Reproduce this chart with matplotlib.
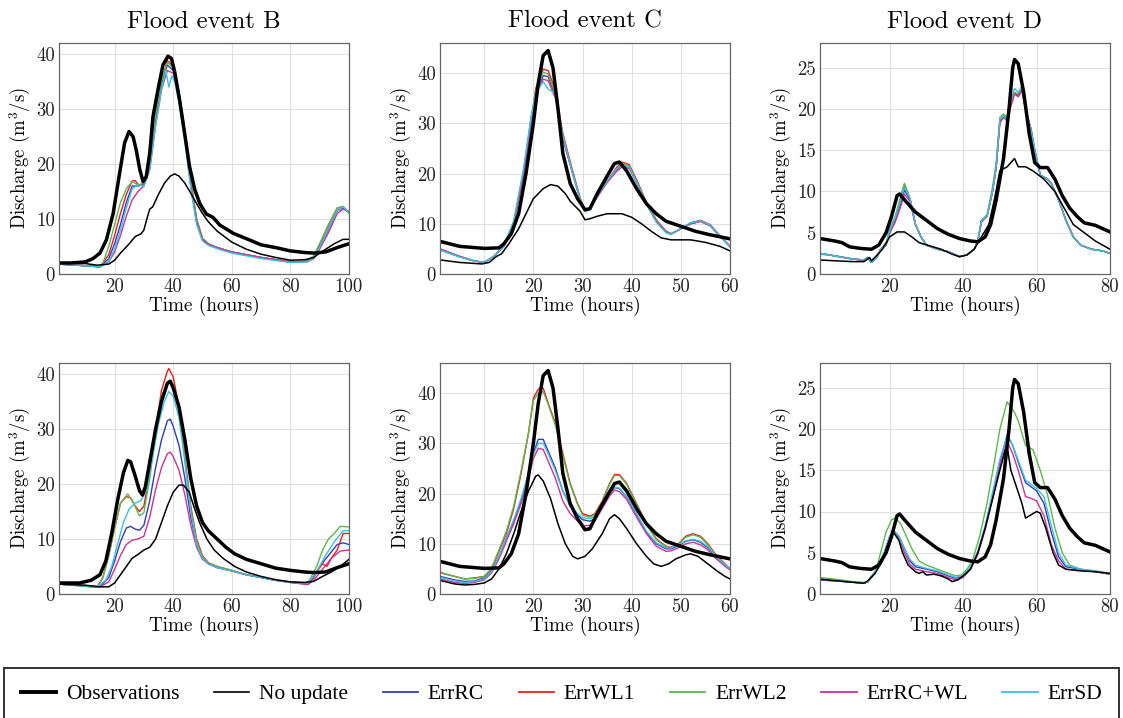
import matplotlib
matplotlib.use('Agg')
import matplotlib.pyplot as plt
from matplotlib.lines import Line2D

plt.rcParams['font.family'] = ['cmr10', 'DejaVu Serif']
plt.rcParams['mathtext.fontset'] = 'cm'
plt.rcParams['axes.unicode_minus'] = False

# ---------------- Flood event B, top row ----------------
B1_obs = ([1, 5, 10, 12.6, 15, 17.2, 19.5, 21.7, 23.4, 24.9, 26.3, 27.4, 28.6, 29.7, 30.8, 32, 33.1, 34.8, 36.5, 38.2,
           39.4, 40.5, 42.2, 43.9, 45.6, 47.4, 49.1, 51.3, 53.6, 55.9, 60.5, 66, 70, 75, 80, 85, 88, 92, 96, 100],
          [2, 2, 2.2, 2.8, 3.8, 6.2, 11, 18.3, 23.8, 25.9, 25, 22.5, 19, 16.8, 17.7, 22, 28.6, 33.5, 38, 39.6,
           39.2, 36.8, 31.6, 25.6, 19.5, 15.3, 12.8, 10.9, 10.3, 8.9, 7.4, 6.2, 5.3, 4.8, 4.2, 3.9, 3.8, 4.0, 4.8, 5.5])
B1_noup = ([1, 10, 14, 18, 20, 22, 25, 27, 29, 30, 31, 32, 33, 35, 37, 39, 40.5, 42, 44, 46, 48, 50, 52, 55, 60, 65,
            70, 75, 80, 85, 88, 90, 95, 98, 100],
           [2, 1.9, 1.6, 1.8, 2.5, 3.8, 5.5, 6.8, 7.3, 8, 10, 11.8, 12.2, 14.5, 16.5, 17.8, 18.2, 17.8, 16.5, 14.7,
            12.8, 11, 9.5, 7.8, 5.8, 4.5, 3.6, 3, 2.5, 2.6, 3, 3.8, 5.5, 6.3, 6.3])
B1_rc = ([1, 10, 15, 18, 20, 22, 24, 26, 28, 30, 32, 34, 36, 38, 40, 42, 44, 46, 48, 50, 52, 55, 60, 70, 80, 86, 88,
          90, 93, 96, 98, 100],
         [1.8, 1.5, 1.3, 2.8, 5.5, 9, 13, 16, 16, 16.3, 20.5, 28, 34.5, 38, 37, 32.5, 25.5, 16.5, 9.5, 6.3, 5.4, 4.8,
          4, 3, 2.2, 2.3, 3, 4.8, 8, 11.5, 12, 11.2])
B1_wl1 = ([1, 10, 15, 18, 20, 22, 24, 26, 27, 28, 30, 32, 34, 36, 38, 40, 42, 44, 46, 48, 50, 52, 55, 60, 70, 80, 86,
           88, 90, 93, 96, 98, 100],
          [1.8, 1.5, 1.3, 3.5, 7, 11, 14.5, 16.9, 17, 16.3, 16, 21, 29, 35, 38.8, 37.8, 33, 26, 17, 10, 6.5, 5.5, 4.8,
           4, 3, 2.2, 2.3, 3.2, 5.3, 8.8, 12, 12.2, 11.3])
B1_wl2 = ([1, 10, 15, 16, 18, 20, 22, 24, 26, 28, 30, 32, 34, 36, 38, 40, 42, 44, 46, 48, 50, 52, 55, 60, 70, 80, 85,
           88, 90, 93, 96, 98, 100],
          [1.8, 1.5, 1.3, 2, 5, 9, 13, 15.5, 16.8, 16.2, 16.5, 21, 29, 35, 38.5, 37.5, 33, 26, 17, 10, 6.5, 5.5, 4.8,
           4, 3, 2.2, 2.2, 3.3, 5.5, 9, 12, 12.3, 11])
B1_rcwl = ([1, 10, 15, 18, 20, 22, 24, 26, 28, 30, 32, 34, 36, 38, 40, 42, 44, 46, 48, 50, 52, 55, 60, 70, 80, 86, 88,
            90, 93, 96, 98, 100],
           [1.8, 1.5, 1.3, 2.2, 4, 7, 10.5, 13.5, 15, 16, 19, 27, 33.5, 37, 36.5, 32, 25, 16, 9.5, 6.3, 5.4, 4.8, 4, 3,
            2.2, 2.3, 2.8, 4.5, 7.5, 11, 11.8, 11.3])
B1_sd = ([1, 10, 15, 18, 20, 22, 24, 26, 28, 30, 32, 34, 36, 37.5, 38.5, 39.5, 40.5, 42, 44, 46, 48, 50, 52, 55, 60, 70,
          80, 86, 88, 90, 93, 96, 98, 100],
         [1.8, 1.5, 1.3, 2.3, 4.5, 8, 12, 15.5, 16.2, 16, 19, 27, 33.5, 37, 34, 36, 35, 31, 24, 15.5, 9, 6, 5.2, 4.6,
          3.8, 2.8, 2.1, 2.2, 3, 4.8, 8.2, 11.5, 12.2, 11.2])

# ---------------- Flood event C, top row ----------------
C_obs = ([1, 5, 10, 13, 14, 15.5, 17, 18.5, 20, 21, 22, 23, 24, 25, 26, 27.5, 29, 30.5, 31.5, 33, 35, 36.5, 37.5, 39,
          41, 43, 45, 47, 50, 53, 56, 60],
         [6.5, 5.5, 5.1, 5.2, 6, 8, 12, 20, 30, 38, 43.5, 44.5, 41, 33, 24, 18, 15, 12.8, 13, 16, 19.5, 22, 22.3, 20.5,
          17, 14, 12, 10.5, 9.5, 8.5, 7.8, 7])
C1_noup = ([1, 5, 9.5, 11, 12.5, 13.5, 15, 17, 18.5, 20, 22, 23.5, 25, 26.5, 27.5, 28.5, 29.5, 30.5, 31.5, 33, 35, 38,
            40, 42, 44, 46, 48, 52, 55, 58, 60],
           [2.8, 2.3, 2, 2.3, 3.5, 4, 6, 9, 12, 15, 17, 17.8, 17.5, 16, 14.5, 13.5, 12.5, 10.8, 11, 11.5, 12, 12, 11.3,
            10, 8.5, 7.2, 6.8, 6.8, 6.3, 5.5, 4.6])
C1_t = [1, 5, 8, 10, 12, 14, 16, 18, 19.5, 20.5, 22, 23, 24.5, 26, 28, 29.5, 30.5, 31.5, 33, 35, 37, 38, 39.5, 41, 43,
        45, 47, 48, 50, 52, 54, 56, 58, 60]
C1_rc = [4.8, 3.4, 2.6, 2.3, 3.5, 5.5, 10, 20, 30, 36, 39.5, 39.3, 35.5, 27, 20, 15, 12.5, 13, 15.5, 18.5, 20.8, 21.8,
         21.2, 18.3, 14, 10.5, 8.5, 8, 9, 10, 10.5, 9.6, 7.5, 5.5]
C1_wl1 = [5, 3.5, 2.6, 2.3, 3.5, 5.5, 10, 20, 30.5, 37, 40.8, 40.5, 36.5, 28, 20.5, 15.2, 12.6, 13, 15.5, 18.5, 21.3,
          22.3, 21.8, 18.8, 14.3, 10.8, 8.5, 8, 9, 10.2, 10.7, 9.8, 7.6, 5.5]
C1_wl2 = [4.9, 3.5, 2.6, 2.3, 3.6, 5.7, 10.5, 20.5, 31, 36.5, 40.2, 39.8, 35.8, 27.5, 20.2, 15, 12.5, 13, 15.5, 18.5,
          21, 22, 21.5, 18.5, 14.1, 10.6, 8.4, 8, 9, 10, 10.5, 9.6, 7.5, 5.4]
C1_rcwl = [5, 3.5, 2.6, 2.3, 3.5, 5.5, 10, 20, 30, 35.8, 38.8, 38.5, 35, 27, 20, 15, 12.5, 13, 15.3, 18.2, 20.5, 21.3,
           21, 18.3, 14, 10.5, 8.3, 7.9, 9, 10, 10.5, 9.6, 7.5, 5.5]
C1_sd = [4.8, 3.4, 2.6, 2.3, 3.5, 5.5, 10.5, 21, 31, 36, 38.3, 36.8, 36, 27.5, 20, 15, 12.4, 12.8, 15.5, 18.5, 21, 21.8,
         21.3, 18.3, 14, 10.3, 8.2, 7.9, 9, 10.2, 10.6, 9.7, 7.5, 5.4]

# ---------------- Flood event D, top row ----------------
D_obs = ([1, 5, 7, 9, 12, 15, 17, 19, 20.5, 22, 22.7, 24, 27, 30, 33, 36, 39, 42, 44, 46, 47.5, 49, 51, 52.5, 53.5, 54,
          55, 56.5, 58, 59.5, 61, 63, 65, 67, 69, 71, 73, 76, 77, 80],
         [4.3, 4, 3.8, 3.3, 3.1, 3, 3.5, 5, 7, 9.5, 9.7, 9, 7.5, 6.5, 5.5, 4.8, 4.3, 4, 3.9, 4.5, 6, 9, 14, 20, 25, 26,
          25.5, 22, 17, 13.5, 12.9, 12.9, 11.5, 9.5, 8, 7, 6.2, 5.9, 5.7, 5.1])
D1_noup = ([1, 5, 10, 13, 14.5, 15, 17, 18, 20, 22, 24, 26, 28, 31, 34, 37, 39, 41, 43, 45, 47, 48.5, 50, 52, 54, 55,
            57, 59, 62, 65, 67.5, 70, 73, 76, 80],
           [1.7, 1.6, 1.5, 1.5, 2, 1.6, 2.5, 3, 4.5, 5.1, 5.1, 4.5, 3.8, 3.4, 3, 2.4, 2.1, 2.3, 3, 4.5, 6, 9, 12.5, 13,
            14, 13, 13, 12.5, 11.5, 10, 8, 6, 5, 4, 3])
D1_t = [1, 5, 10, 13, 14, 15, 16.5, 17.5, 19, 20, 21.5, 23, 24, 25.5, 27, 28.5, 30, 33, 36, 39, 41, 43, 44, 45, 46.5,
        48, 49, 50, 51, 51.8, 53, 54, 55, 56, 57, 58.5, 59.5, 61, 63, 64, 66, 68, 70, 72, 75, 78, 80]
D1_rc = [2.5, 2.2, 1.8, 1.7, 2, 1.4, 2, 3, 3.5, 5, 6.5, 8.5, 10.2, 9, 6, 4.5, 3.5, 3, 2.7, 2.1, 2.3, 3, 4, 6.5, 7, 10,
         13, 18.5, 19, 18.8, 20.5, 22, 21.5, 22.3, 20, 17.5, 15, 12, 11.5, 11, 9, 6.5, 4.5, 3.5, 3, 2.8, 2.5]
D1_wl1 = [2.5, 2.2, 1.8, 1.7, 2, 1.4, 2, 3, 3.6, 5.2, 6.8, 9, 10.8, 9.2, 6, 4.5, 3.5, 3, 2.7, 2.1, 2.3, 3, 4, 6.5, 7,
          10, 13, 18.6, 19.2, 18.8, 20.5, 22, 21.7, 22.5, 20, 17.5, 15, 12, 11.5, 11, 9, 6.5, 4.5, 3.5, 3, 2.8, 2.5]
D1_wl2 = [2.4, 2.2, 1.8, 1.7, 2, 1.4, 2, 3, 3.8, 5.5, 7, 9.5, 11, 9.2, 6, 4.5, 3.5, 3, 2.7, 2.1, 2.3, 3, 4, 6.5, 7.2,
          10.5, 13.5, 19, 19.4, 19, 20.5, 22, 21.8, 22.6, 20, 17.5, 15, 12, 11.5, 11, 9, 6.5, 4.5, 3.5, 3, 2.8, 2.5]
D1_rcwl = [2.5, 2.2, 1.8, 1.7, 2, 1.4, 2, 3, 3.5, 5, 6.3, 8.2, 9.7, 8.8, 6, 4.5, 3.5, 3, 2.7, 2.1, 2.3, 3, 4, 6.3, 7,
           10, 13, 18.3, 19, 18.6, 20.3, 21.8, 21.5, 22.2, 20, 17.5, 15, 12, 11.5, 11, 9, 6.5, 4.5, 3.5, 3, 2.8, 2.5]
D1_sd = [2.5, 2.2, 1.8, 1.7, 2, 1.4, 2, 3, 3.6, 5.3, 6.8, 9, 10.5, 9.2, 6, 4.5, 3.5, 3, 2.7, 2.1, 2.3, 3, 4, 6.5, 7,
         10, 13, 18.7, 19.2, 18.8, 21, 22.5, 22, 22.8, 20, 17.5, 15, 12, 11.5, 11, 9, 6.5, 4.5, 3.5, 3, 2.8, 2.5]

# ---------------- Flood event B, bottom row ----------------
B2_obs = ([1, 8, 12, 15, 17, 19, 21, 23, 24.5, 25.5, 27, 28.5, 29.5, 30.5, 32, 34, 36, 38, 39, 40, 42, 44, 46, 48, 50,
           52, 55, 58, 61, 65, 70, 75, 80, 85, 88, 92, 96, 100],
          [2, 2, 2.5, 3.5, 6, 11, 17, 22, 24.3, 24, 21.5, 18.8, 18, 19.5, 24, 30, 35, 38.3, 38.7, 37.5, 34, 28, 21, 16,
           13, 11.5, 10, 8.5, 7.3, 6.3, 5.5, 4.7, 4.3, 4, 3.9, 4, 4.8, 5.5])
B2_noup = ([1, 10, 15, 18, 20, 22, 24, 26, 28, 30, 32, 34, 36, 38, 40, 42, 43.5, 45.5, 47, 49, 51.5, 54, 57, 61, 65, 70,
            75, 80, 85, 88, 91, 94, 97, 100],
           [1.8, 1.6, 1.3, 1.3, 2, 3.5, 5, 6.5, 7.2, 8, 8.5, 10, 13, 16, 18.5, 19.8, 19.8, 18.5, 16, 13, 10, 8, 6.5, 5,
            4, 3.2, 2.6, 2.2, 2.1, 2.3, 3.2, 4, 5, 6.3])
B2_rc = ([1, 10, 15, 18, 20, 22, 24, 25.5, 27, 28.5, 30, 32, 34, 36, 38, 39, 40, 42, 44, 46, 48, 50, 52, 55, 60, 65, 70,
          75, 80, 86, 88, 90, 93, 96, 98, 100],
         [1.8, 1.5, 1.3, 3, 6, 9.5, 12, 12.3, 11.8, 11.6, 12.5, 17, 23, 28, 31.5, 31.8, 30.5, 27, 21, 14, 9, 6.5, 5.5,
          4.8, 4.2, 3.5, 3, 2.5, 2.1, 1.8, 3, 5, 7, 9, 9.3, 9])
B2_wl1 = ([1, 10, 14, 16, 18, 20, 22, 24, 25.5, 27, 28.5, 30, 32, 34, 36, 38, 38.5, 40, 42, 44, 46, 48, 50, 52, 55, 60,
           65, 70, 75, 80, 85, 87, 89, 91, 92.5, 94, 96, 98, 100],
          [1.8, 1.4, 1.2, 3, 7, 12, 16.5, 17.7, 17.5, 16, 15, 16, 22, 30, 37, 40.5, 41, 39.5, 34, 25, 16, 10, 7, 5.7, 5,
           4.3, 3.5, 3, 2.5, 2.2, 1.9, 2.5, 4, 5.5, 5, 6.5, 8, 11, 11])
B2_wl2 = ([1, 10, 14, 16, 18, 20, 22, 24.5, 26.5, 28.5, 30, 32, 34, 36, 38.5, 40, 42, 44, 46, 48, 50, 52, 55, 60, 65,
           70, 75, 80, 86, 89, 91, 93, 95, 97, 100],
          [1.8, 1.4, 1.2, 3, 7, 12, 16.5, 18.2, 16.5, 14.2, 14.8, 21, 29, 36, 38.7, 38, 33, 24.5, 15.5, 9.5, 6.8, 5.6,
           5, 4.3, 3.5, 3, 2.5, 2.2, 2, 5, 8, 10, 11, 12.3, 12.2])
B2_rcwl = ([1, 10, 15, 18, 20, 22, 24, 26, 28, 30, 32, 34, 36, 38, 39, 40, 42, 44, 46, 48, 50, 52, 55, 60, 65, 70, 75,
            80, 86, 88, 91, 94, 97, 100],
           [1.8, 1.5, 1.3, 2.2, 4.5, 7, 9, 9.8, 10, 10.5, 14, 19, 23, 25.5, 25.8, 25, 22.5, 18, 12.5, 8.5, 6.3, 5.5,
            4.8, 4.2, 3.5, 3, 2.5, 2.1, 1.7, 2.5, 4.5, 6.5, 7.8, 8])
B2_sd = ([1, 14, 17, 19, 21, 23, 25, 27, 29, 31, 33, 35, 37, 38.5, 40, 42, 44, 46, 48, 50, 52, 55, 60, 65, 70, 75, 80,
          86, 89, 92, 95, 98, 100],
         [1.8, 1.3, 2.5, 5, 9, 13, 15.5, 16.5, 17, 19, 25, 31, 35, 36.8, 36, 32, 24, 15, 9, 6.5, 5.5, 4.8, 4.2, 3.5, 3,
          2.5, 2.1, 2, 4, 7, 9.5, 11.5, 11.5])

# ---------------- Flood event C, bottom row ----------------
C2_noup = ([1, 4, 6, 8, 10, 11.5, 13, 14.5, 16, 17.5, 19, 20.5, 21, 22, 23.5, 25, 26.5, 28, 29, 30.5, 32, 34, 35.5,
            36.5, 37.5, 39, 41, 43, 44.5, 46, 47.5, 49, 51, 52, 53.5, 55.5, 57.5, 59, 60],
           [2.7, 2, 1.8, 1.9, 2.2, 3, 5, 8, 12, 16.5, 20.5, 23.5, 23.7, 22.5, 19, 14, 10, 7.5, 7, 7.5, 9, 12, 15, 15.8,
            15, 13, 10, 7.5, 6, 5.5, 6, 7, 7.8, 8, 7.5, 6, 4.5, 3.5, 3])
C2_t = [1, 4, 6, 8, 10, 11.5, 13, 14.5, 16, 17.5, 19, 20, 21, 22, 23, 24.5, 26, 27.5, 29, 30, 31.5, 32.5, 34, 35.5,
        36.5, 37.5, 39, 41, 43, 45, 47, 48, 49.5, 51, 52.5, 54, 55.5, 57, 59, 60]
C2_rc = [3.5, 2.8, 2.5, 2.6, 3.2, 4.5, 7.5, 11, 14.5, 18.5, 24, 28, 30.8, 30.8, 28.5, 25, 20.5, 17.5, 15.8, 14.8, 14.5,
         15, 17.5, 20, 21.2, 21, 19.3, 15.8, 12.3, 10, 9, 9, 9.6, 10.5, 10.8, 10.3, 9.2, 7.5, 5.7, 5]
C2_wl1 = [4.3, 3.5, 3, 3.2, 3.5, 5, 8.5, 12, 17, 24, 32, 39, 40.8, 41, 38, 34, 28, 22, 18, 16, 15.5, 16, 18.5, 22, 23.8,
          23.8, 22, 18, 14, 11, 9.5, 9.3, 10, 11.5, 12, 11.5, 10, 8, 6, 5]
C2_wl2 = [4.2, 3.5, 3, 3.1, 3.5, 5.2, 8.8, 12.5, 17.5, 24.5, 32, 38.5, 40, 40.3, 37.8, 33.5, 27.5, 21.8, 17.8, 15.7,
          15.3, 15.8, 18.3, 21.8, 23.6, 23.6, 21.8, 17.8, 13.8, 10.8, 9.4, 9.2, 9.9, 11.3, 11.8, 11.3, 9.8, 7.8, 5.8, 4.9]
C2_rcwl = [3, 2.3, 2.1, 2.3, 2.8, 4.2, 7, 10.5, 14, 18, 23, 27, 29, 28.8, 26.5, 23, 18.5, 16, 14.5, 13.5, 13.7, 14.5,
           17, 19.5, 20.7, 20.4, 18.8, 15.3, 12, 9.5, 8.5, 8.6, 9.2, 10, 10.3, 9.8, 8.8, 7.2, 5.5, 4.8]
C2_sd = [3.3, 2.6, 2.3, 2.5, 3, 4.5, 7.5, 11.2, 14.8, 19, 24, 27.8, 30, 30, 28, 24.5, 20.5, 17.5, 16, 15.2, 15, 15.4,
         17.8, 20.3, 21.3, 21.1, 19.4, 16, 12.5, 10.2, 9.2, 9.2, 9.8, 10.6, 10.9, 10.5, 9.4, 7.6, 5.8, 5]

# ---------------- Flood event D, bottom row ----------------
D2_noup = ([1, 8, 13, 14, 16, 18, 19.5, 21, 22.5, 23.5, 25, 27, 28, 29, 30, 32, 34, 36, 37, 38.5, 40, 42, 44, 46, 48,
            50, 51.5, 52, 53, 54.5, 56, 57, 58.5, 60, 61, 62.5, 64.5, 66, 68, 72, 76, 80],
           [1.8, 1.5, 1.3, 1.6, 2.5, 4, 6, 7.5, 6.5, 5, 3.5, 2.7, 2.5, 2.7, 2.3, 2.4, 2.2, 1.8, 1.5, 1.7, 2.2, 3, 5, 8,
            11.5, 15, 17.5, 17.8, 15, 13, 11, 9.2, 9.6, 10, 9.8, 8, 5, 3.5, 3, 2.8, 2.7, 2.5])
D2_t = [1, 8, 13, 14, 16.5, 18.5, 20, 21, 22.5, 24, 25.5, 27, 30, 33, 36, 38, 40, 42, 44, 46, 48, 50, 52, 53.5, 55, 57,
        58.5, 60, 62, 64, 66, 68, 72, 76, 80]
D2_rc = [1.7, 1.5, 1.3, 1.5, 3, 5, 7, 7.7, 7, 5.5, 4, 3.3, 3, 2.7, 2.2, 1.9, 2.2, 3.2, 5, 8, 12, 16, 19.3, 18, 16, 13.5,
         13, 12.5, 11, 7.5, 4.5, 3.3, 3, 2.7, 2.4]
D2_rcwl = [1.7, 1.5, 1.3, 1.5, 3, 5, 7, 7.5, 6.8, 5, 3.6, 3, 2.7, 2.5, 2, 1.7, 2, 3, 4.8, 7.8, 11.5, 15.5, 18.5, 17,
           15, 11.8, 11.6, 11.3, 9.5, 6, 4, 3, 2.9, 2.7, 2.4]
D2_sd = [1.8, 1.5, 1.3, 1.5, 3, 5, 7, 7.6, 7, 5.5, 4.2, 3.5, 3.1, 2.8, 2.3, 2, 2.3, 3.3, 5.2, 8.3, 12.3, 16.3, 19.2, 18,
         16.2, 13.8, 13.3, 12.8, 11.8, 8.3, 5, 3.5, 3, 2.8, 2.4]
D2_wl2 = ([1, 5, 10, 14, 16, 17.5, 19, 20.5, 21.5, 23, 24.5, 26, 28, 30, 33, 36, 38, 39.5, 41, 42.5, 44.5, 46.5, 48.5,
           50, 51.5, 52, 54, 55, 57, 59, 61, 63, 65, 67, 69, 72, 76, 80],
          [2, 1.8, 1.5, 1.4, 2.5, 5, 7.5, 9, 9.2, 8.5, 7, 5.5, 4, 3.5, 3, 2.5, 2.2, 2.3, 3, 4, 7, 11, 16, 20, 22.5, 23.3,
           22, 21, 18, 17.5, 15, 12, 8, 5, 3.5, 3, 2.8, 2.5])

colors = {'ErrRC': '#2f3db8', 'ErrWL1': '#ee1c1c', 'ErrWL2': '#5cb84a', 'ErrRC+WL': '#cc3399', 'ErrSD': '#3cbfe0'}

panels = [
    # (position, title, xlim, xticks, ylim, yticks, obs, noupdate, coloured series)
    ([0.0525, 0.6184, 0.2582, 0.3217], 'Flood event B', (1, 100), [20, 40, 60, 80, 100], (0, 42), [0, 10, 20, 30, 40],
     B1_obs, B1_noup, [('ErrRC', B1_rc), ('ErrWL1', B1_wl1), ('ErrWL2', B1_wl2), ('ErrRC+WL', B1_rcwl), ('ErrSD', B1_sd)]),
    ([0.3918, 0.6184, 0.2582, 0.3217], 'Flood event C', (1, 60), [10, 20, 30, 40, 50, 60], (0, 46), [0, 10, 20, 30, 40],
     C_obs, C1_noup, [('ErrRC', (C1_t, C1_rc)), ('ErrWL1', (C1_t, C1_wl1)), ('ErrWL2', (C1_t, C1_wl2)),
                      ('ErrRC+WL', (C1_t, C1_rcwl)), ('ErrSD', (C1_t, C1_sd))]),
    ([0.7302, 0.6184, 0.2582, 0.3217], 'Flood event D', (1, 80), [20, 40, 60, 80], (0, 28), [0, 5, 10, 15, 20, 25],
     D_obs, D1_noup, [('ErrRC', (D1_t, D1_rc)), ('ErrWL1', (D1_t, D1_wl1)), ('ErrWL2', (D1_t, D1_wl2)),
                      ('ErrRC+WL', (D1_t, D1_rcwl)), ('ErrSD', (D1_t, D1_sd))]),
    ([0.0525, 0.1727, 0.2582, 0.3217], None, (1, 100), [20, 40, 60, 80, 100], (0, 42), [0, 10, 20, 30, 40],
     B2_obs, B2_noup, [('ErrRC', B2_rc), ('ErrWL1', B2_wl1), ('ErrWL2', B2_wl2), ('ErrRC+WL', B2_rcwl), ('ErrSD', B2_sd)]),
    ([0.3918, 0.1727, 0.2582, 0.3217], None, (1, 60), [10, 20, 30, 40, 50, 60], (0, 46), [0, 10, 20, 30, 40],
     C_obs, C2_noup, [('ErrRC', (C2_t, C2_rc)), ('ErrWL1', (C2_t, C2_wl1)), ('ErrWL2', (C2_t, C2_wl2)),
                      ('ErrRC+WL', (C2_t, C2_rcwl)), ('ErrSD', (C2_t, C2_sd))]),
    ([0.7302, 0.1727, 0.2582, 0.3217], None, (1, 80), [20, 40, 60, 80], (0, 28), [0, 5, 10, 15, 20, 25],
     D_obs, D2_noup, [('ErrRC', (D2_t, D2_rc)), ('ErrWL2', D2_wl2),
                      ('ErrRC+WL', (D2_t, D2_rcwl)), ('ErrSD', (D2_t, D2_sd))]),
]

fig = plt.figure(figsize=(11.23, 7.18), dpi=100)

for pos, title, xlim, xticks, ylim, yticks, obs, noup, series in panels:
    ax = fig.add_axes(pos)
    for name, (t, q) in series:
        ax.plot(t, q, color=colors[name], lw=1.0)
    ax.plot(noup[0], noup[1], color='black', lw=1.1)
    ax.plot(obs[0], obs[1], color='black', lw=2.5)
    ax.set_xlim(*xlim)
    ax.set_ylim(*ylim)
    ax.set_xticks(xticks)
    ax.set_yticks(yticks)
    ax.grid(True, color='#e0e0e0', lw=0.8)
    ax.set_axisbelow(True)
    for s in ax.spines.values():
        s.set_color('#666666')
        s.set_linewidth(0.9)
    ax.tick_params(direction='in', length=0, labelsize=13.5, colors='#222222', pad=3)
    ax.set_xlabel('Time (hours)', fontsize=13.8, labelpad=0)
    ax.set_ylabel('Discharge (m$^3$/s)', fontsize=13.5, labelpad=2)
    if title:
        ax.set_title(title, fontsize=17.8, pad=11)

handles = [Line2D([], [], color='black', lw=2.8), Line2D([], [], color='black', lw=1.2)]
labels = ['Observations', 'No update']
for name in ['ErrRC', 'ErrWL1', 'ErrWL2', 'ErrRC+WL', 'ErrSD']:
    handles.append(Line2D([], [], color=colors[name], lw=1.3))
    labels.append(name)

leg = fig.legend(handles, labels, loc='upper left', bbox_to_anchor=(0.004, 0.0, 0.992, 0.0696), mode='expand',
                 ncol=7, frameon=True, fancybox=False, borderaxespad=0, borderpad=0.75, handlelength=1.65,
                 handletextpad=0.45, prop={'family': 'Liberation Serif', 'size': 15.5})
leg.get_frame().set_edgecolor('black')
leg.get_frame().set_linewidth(1.4)

fig.savefig('out.png', dpi=100)
